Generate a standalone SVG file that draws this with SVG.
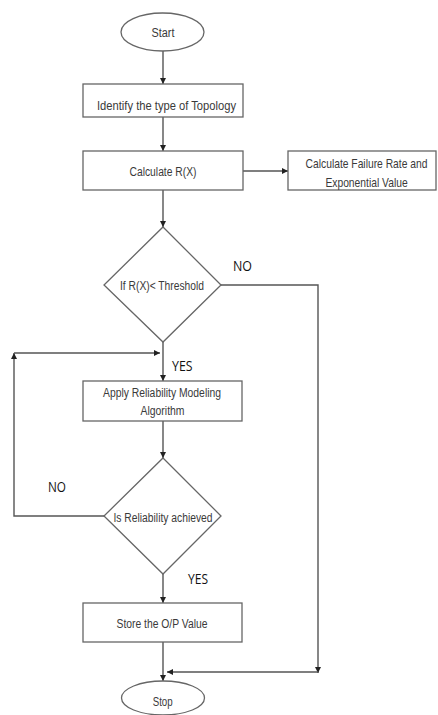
<svg xmlns="http://www.w3.org/2000/svg" width="438" height="715" viewBox="0 0 438 715">
<defs>
<marker id="ah" viewBox="0 0 10 10" refX="10" refY="5" markerWidth="6" markerHeight="6" markerUnits="userSpaceOnUse" orient="auto">
<path d="M0,0 L10,5 L0,10 z" fill="#222"/>
</marker>
<style>
.shape{fill:#fff;stroke:#666;stroke-width:1.3}
.t{font-family:"Liberation Sans",Arial,sans-serif;font-size:12.5px;fill:#3a3a3a;text-anchor:middle}
.lbl{font-family:"Open Sans","Liberation Sans",sans-serif;font-size:15px;fill:#111;text-anchor:start}
.c{fill:none;stroke:#555;stroke-width:1.4;marker-end:url(#ah)}
</style>
</defs>
<rect width="438" height="715" fill="#fff"/>
<g id="connectors">
<path class="c" d="M163,51 V84"/>
<path class="c" d="M163,117 V151"/>
<path class="c" d="M243,171 H288"/>
<path class="c" d="M163,190 V227"/>
<path class="c" d="M221,285 H318 V673"/>
<path class="c" d="M318,672 H167"/>
<path class="c" d="M163,342 V381"/>
<path class="c" d="M163,421 V458"/>
<path class="c" d="M104,516 H14 V353"/>
<path class="c" d="M14,353 H160"/>
<path class="c" d="M163,574 V603"/>
<path class="c" d="M163,642 V681"/>
</g>
<g id="labels">
<text class="lbl" x="233" y="271" textLength="19" lengthAdjust="spacingAndGlyphs">NO</text>
<text class="lbl" x="172" y="371" textLength="20.5" lengthAdjust="spacingAndGlyphs">YES</text>
<text class="lbl" x="48" y="492" textLength="18" lengthAdjust="spacingAndGlyphs">NO</text>
<text class="lbl" x="188" y="584" textLength="20" lengthAdjust="spacingAndGlyphs">YES</text>
</g>
<g id="start">
<ellipse class="shape" cx="162.5" cy="32" rx="41.5" ry="19"/>
<text class="t" x="163" y="36.5" textLength="23" lengthAdjust="spacingAndGlyphs">Start</text>
</g>
<g id="identify">
<rect class="shape" x="83" y="84" width="160" height="33"/>
<text class="t" x="166.5" y="109.5" textLength="139" lengthAdjust="spacingAndGlyphs">Identify the type of Topology</text>
</g>
<g id="calc">
<rect class="shape" x="83" y="151" width="160" height="39"/>
<text class="t" x="163" y="176" textLength="67" lengthAdjust="spacingAndGlyphs">Calculate R(X)</text>
</g>
<g id="failure">
<rect class="shape" x="288" y="151" width="148" height="39"/>
<g transform="translate(366.5,167.5) scale(0.825,1)">
<text class="t" x="0" y="0">Calculate Failure Rate and</text>
</g>
<g transform="translate(366.5,186.5) scale(0.825,1)">
<text class="t" x="0" y="0">Exponential Value</text>
</g>
</g>
<g id="threshold">
<polygon class="shape" points="163,227 221,285 163,342 104,285"/>
<text class="t" x="162" y="289.5" textLength="84" lengthAdjust="spacingAndGlyphs">If R(X)&lt; Threshold</text>
</g>
<g id="apply">
<rect class="shape" x="83" y="381" width="159" height="40"/>
<text class="t" x="162" y="396.5" textLength="118" lengthAdjust="spacingAndGlyphs">Apply Reliability Modeling</text>
<text class="t" x="162.5" y="414.5" textLength="44" lengthAdjust="spacingAndGlyphs">Algorithm</text>
</g>
<g id="achieved">
<polygon class="shape" points="163,458 221,516 163,574 104,516"/>
<text class="t" x="163" y="521.5" textLength="99" lengthAdjust="spacingAndGlyphs">Is Reliability achieved</text>
</g>
<g id="store">
<rect class="shape" x="83" y="603" width="159" height="39"/>
<text class="t" x="162" y="627.5" textLength="91" lengthAdjust="spacingAndGlyphs">Store the O/P Value</text>
</g>
<g id="stop">
<ellipse class="shape" cx="163" cy="698" rx="41.5" ry="17"/>
<text class="t" x="162.7" y="706" textLength="20" lengthAdjust="spacingAndGlyphs">Stop</text>
</g>
</svg>
